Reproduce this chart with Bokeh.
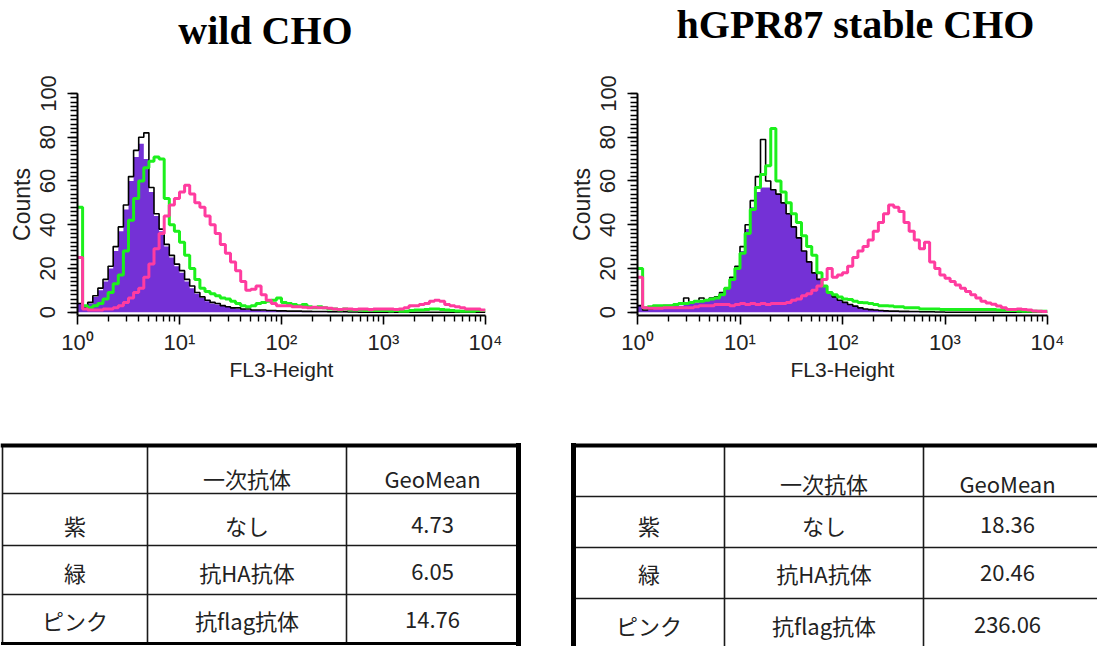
import numpy as np
from bokeh.plotting import figure
from bokeh.models import Range1d, FixedTicker
from bokeh.layouts import column, row
from bokeh.embed import file_html
from bokeh.resources import INLINE
from bokeh.core.properties import value

# ---------------------------------------------------------------------------
# Flow-cytometry histograms: 80 channels of 0.05 decade each, 10^0 .. 10^4
# ---------------------------------------------------------------------------
BIN_LOG_WIDTH = 0.05
N_BINS = 80
bin_edges = 10 ** (np.arange(N_BINS + 1) * BIN_LOG_WIDTH)

# wild CHO
wild_none_fill = [4, 2, 4, 7, 10, 14, 20, 28, 37, 47,
                  60, 71, 77, 70, 55, 44, 37, 30, 25, 21,
                  18, 14, 11, 8.5, 6.5, 5, 4, 3.5, 3, 2.5,
                  2, 1.5, 1.5, 1, 1, 1, 0.8, 0.8, 0.6, 0.6,
                  0.5, 0.5, 0.5, 0.4, 0.4, 0.3, 0.3, 0.3, 0.2, 0.2,
                  0.2, 0.2, 0.1, 0.1, 0.1, 0, 0, 0, 0, 0,
                  0, 0, 0, 0, 0, 0, 0, 0, 0, 0,
                  0, 0, 0, 0, 0, 0, 0, 0, 0, 0]
wild_none_edge = [4, 2, 4.5, 7.5, 11, 15, 21, 30, 39, 49,
                  62, 74, 80, 82, 57, 45, 38, 31, 26, 22,
                  19, 15, 12, 9, 7, 5.5, 4.5, 4, 3, 2.5,
                  2, 2, 1.5, 1.5, 1, 1, 1, 0.8, 0.8, 0.6,
                  0.6, 0.5, 0.5, 0.5, 0.4, 0.4, 0.3, 0.3, 0.3, 0.2,
                  0.2, 0.2, 0.2, 0.1, 0.1, 0, 0, 0, 0, 0,
                  0, 0, 0, 0, 0, 0, 0, 0, 0, 0,
                  0, 0, 0, 0, 0, 0, 0, 0, 0, 0]
wild_ha = [48, 3, 2, 3, 4, 6, 9, 13, 17, 28,
           42, 52, 60, 66, 69, 71, 70, 52, 40, 37,
           32, 26, 20, 15, 11, 9.5, 8.5, 7.5, 6.5, 6,
           5, 4, 3, 2.5, 3, 4, 4.5, 5, 5.5, 6.5,
           4.5, 4, 3.5, 3, 3.5, 2.5, 2, 2.5, 2, 1.5,
           1.5, 1, 1.5, 1, 1, 1, 0.8, 1, 0.8, 0.8,
           0.8, 0.6, 0.8, 0.5, 0.5, 0.8, 1, 1, 1.2, 1.5,
           1.5, 1.2, 1, 0.8, 0.6, 0.5, 0.5, 0.5, 0.8, 0.8]
wild_flag = [25, 1.5, 1, 1, 1, 1.5, 1.5, 2, 3, 4.5,
             6.5, 9, 11, 16, 22, 29, 36, 44, 49, 52,
             55, 58, 54, 50, 48, 44, 40, 36, 31, 27,
             23, 19, 14, 10, 10.5, 12, 8, 5.5, 4, 3,
             3, 3, 2.5, 2.5, 2.3, 2, 2.3, 2, 2, 1.8,
             1.5, 1.3, 1.5, 1.5, 1.2, 1.5, 1.5, 1.3, 1.5, 1.5,
             1.5, 1.5, 1.3, 1.5, 2, 3, 3, 3.5, 4, 5,
             5.5, 5, 3.5, 3, 2.5, 2, 1.5, 1.5, 1.5, 1]

# hGPR87 stable CHO
stable_none_fill = [3, 1, 1.5, 2, 2, 2, 2.5, 3, 3, 3.5,
                    4, 4.5, 5, 5.5, 6, 7, 9, 11, 15, 20,
                    28, 38, 48, 55, 57, 57, 56, 54, 50, 45,
                    39, 34, 28, 23, 18, 15, 12, 9, 7, 5.5,
                    4.5, 3.5, 2.8, 2, 1.5, 1.2, 1, 0.8, 0.6, 0.5,
                    0.5, 0.4, 0.4, 0.3, 0.3, 0.2, 0.2, 0.2, 0.1, 0.1,
                    0.1, 0.1, 0, 0, 0, 0, 0, 0, 0, 0,
                    0, 0, 0, 0, 0, 0, 0, 0, 0, 0]
stable_none_edge = [3, 1, 1.5, 2, 2.5, 3, 3, 3.5, 4, 6.5,
                    4.5, 5, 6.5, 5.5, 6.5, 7, 9, 11, 16, 21,
                    30, 40, 51, 62, 79, 60, 56, 54, 50, 45,
                    39, 34, 28, 23, 18, 15, 12, 9, 7, 5.5,
                    4.5, 3.5, 2.8, 2, 1.5, 1.2, 1, 0.8, 0.6, 0.5,
                    0.5, 0.4, 0.4, 0.3, 0.3, 0.2, 0.2, 0.2, 0.1, 0.1,
                    0, 0, 0, 0, 0, 0, 0, 0, 0, 0,
                    0, 0, 0, 0, 0, 0, 0, 0, 0, 0]
stable_ha = [20, 2, 2.5, 3, 3, 3, 3, 3.5, 4, 4,
             4.5, 5, 5, 5.5, 6, 6.5, 8, 11, 15, 20,
             27, 36, 47, 57, 63, 67, 84, 60, 55, 50,
             45, 41, 35, 30, 26, 18, 12, 9, 8, 7,
             6, 5.8, 5, 4.5, 4.3, 4, 3.5, 3, 3, 2.8,
             2.5, 2.5, 2, 2, 2, 1.5, 1.5, 1.5, 1.5, 1.3,
             1.3, 1.3, 1.3, 1.3, 1.3, 1.3, 1.3, 1.3, 1.3, 1.3,
             1, 1, 0.8, 0.8, 0.6, 0.5, 0.5, 0.5, 0.4, 0.4]
stable_flag = [16, 2, 1.8, 1.8, 1.8, 2, 2, 2, 2, 2,
               2, 2.5, 3, 3, 3, 3.5, 3.5, 3.5, 3, 3.5,
               4, 3.5, 4, 3.5, 4, 3.5, 4, 4, 4, 4.5,
               5.5, 6, 7.5, 8.5, 10, 12, 15, 20, 16, 17,
               18, 21, 25, 28, 30, 33, 37, 41, 45, 49,
               48, 46, 41, 37, 33, 29, 32, 23, 20, 17,
               15.5, 14, 12.5, 11, 9.5, 8, 6.5, 5, 4.2, 3.6,
               2.8, 2, 1.3, 1.3, 1.5, 1.3, 1, 0.6, 0.4, 0.3]

x_decades = [1, 10, 100, 1000, 10000]
x_tick_labels = ["10\u2070", "10\u00b9", "10\u00b2", "10\u00b3", "10\u2074"]
y_ticks = [0, 20, 40, 60, 80, 100]

panel_titles = ["wild CHO", "hGPR87 stable CHO"]

# table contents
table_header = ["", "一次抗体", "GeoMean"]
colour_names = ["紫", "緑", "ピンク"]
antibodies = ["なし", "抗HA抗体", "抗flag抗体"]
wild_geomean = ["4.73", "6.05", "14.76"]
stable_geomean = ["18.36", "20.46", "236.06"]

PURPLE = "#7431d6"
GREEN = "#1cf01c"
PINK = "#ff3c9f"
AXIS_FONT = "Liberation Sans"
TABLE_FONT = "Noto Sans CJK JP"


def blank_canvas(width, height):
    """A figure whose data space equals its pixel space (y downwards)."""
    p = figure(width=width, height=height,
               x_range=Range1d(0, width), y_range=Range1d(height, 0),
               output_backend="svg", toolbar_location=None,
               min_border=0, min_border_left=0, min_border_right=0,
               min_border_top=0, min_border_bottom=0)
    p.axis.visible = False
    p.grid.visible = False
    p.outline_line_color = None
    p.background_fill_color = "white"
    p.border_fill_color = "white"
    return p


def heading(text, width, height, cx, cy):
    p = blank_canvas(width, height)
    p.text(x=[cx], y=[cy], text=[text], text_align="center",
           text_baseline="middle", text_font=value("Liberation Serif"),
           text_font_style="bold", text_font_size="40px", text_color="black")
    return p


def step_y(counts):
    return list(counts) + [counts[-1]]


def histogram_panel(fill, edge, ha, flag, width, height,
                    border_left, border_right, border_top, border_bottom):
    p = figure(width=width, height=height, x_axis_type="log",
               x_range=Range1d(1, 1e4), y_range=Range1d(-1.5, 100),
               output_backend="svg", toolbar_location=None,
               min_border_left=border_left, min_border_right=border_right,
               min_border_top=border_top, min_border_bottom=border_bottom)
    p.outline_line_color = None
    p.grid.visible = False
    p.background_fill_color = "white"
    p.border_fill_color = "white"

    p.varea_step(x=bin_edges, y1=np.zeros(N_BINS + 1), y2=step_y(fill),
                 step_mode="after", fill_color=PURPLE)
    p.step(bin_edges, step_y(edge), mode="after", line_color="black", line_width=1.6)
    p.step(bin_edges, step_y(ha), mode="after", line_color=GREEN, line_width=3)
    p.step(bin_edges, step_y(flag), mode="after", line_color=PINK, line_width=3)

    minor_x = [m * d for d in x_decades[:-1] for m in range(2, 10)]
    p.xaxis.ticker = FixedTicker(ticks=x_decades, minor_ticks=minor_x)
    p.xaxis.major_label_overrides = dict(zip(x_decades, x_tick_labels))
    p.xaxis.axis_label = "FL3-Height"
    p.yaxis.ticker = FixedTicker(ticks=y_ticks, minor_ticks=list(range(0, 101, 2)))
    p.yaxis.major_label_orientation = "vertical"
    p.yaxis.axis_label = "Counts"

    for ax in (p.xaxis[0], p.yaxis[0]):
        ax.axis_line_width = 2
        ax.axis_line_color = "black"
        ax.major_tick_line_width = 1.6
        ax.minor_tick_line_width = 1.4
        ax.major_tick_line_color = "black"
        ax.minor_tick_line_color = "black"
        ax.major_tick_in = 0
        ax.minor_tick_in = 0
        ax.major_label_text_font = AXIS_FONT
        ax.major_label_text_color = "#222222"
        ax.axis_label_text_font = AXIS_FONT
        ax.axis_label_text_font_style = "normal"
        ax.axis_label_text_color = "#222222"
    p.xaxis.major_label_text_font_size = "22px"
    p.xaxis.axis_label_text_font_size = "21px"
    p.yaxis.major_label_text_font_size = "22px"
    p.yaxis.axis_label_text_font_size = "23px"
    p.xaxis.major_tick_out = 9
    p.xaxis.minor_tick_out = 6
    p.yaxis.major_tick_out = 10
    p.yaxis.minor_tick_out = 7
    p.xaxis.major_label_standoff = 5
    p.xaxis.axis_label_standoff = 0
    p.yaxis.major_label_standoff = 12
    p.yaxis.axis_label_standoff = 3
    return p


def table_panel(width, height, col_edges, row_edges, text_x, text_y,
                rows, thick, thin_left):
    p = blank_canvas(width, height)
    top, bottom = row_edges[0], row_edges[-1]
    left, right = col_edges[0], col_edges[-1]
    # inner grid lines
    xs0 = list(col_edges[1:-1]) + [left] * (len(row_edges) - 2)
    xs1 = list(col_edges[1:-1]) + [right] * (len(row_edges) - 2)
    ys0 = [top] * (len(col_edges) - 2) + list(row_edges[1:-1])
    ys1 = [bottom] * (len(col_edges) - 2) + list(row_edges[1:-1])
    p.segment(xs0, ys0, xs1, ys1, line_color="#1a1a1a", line_width=1.6)
    if thin_left:
        p.segment([left], [top], [left], [bottom], line_color="#1a1a1a", line_width=1.6)
    # heavy frame edges
    for (x0, y0, x1, y1, w) in thick:
        p.segment([x0], [y0], [x1], [y1], line_color="black", line_width=w,
                  line_cap="square")

    xs, ys, texts = [], [], []
    for r, cells in enumerate(rows):
        for c, t in enumerate(cells):
            if t:
                xs.append(text_x[c])
                ys.append(text_y[r])
                texts.append(t)
    p.text(x=xs, y=ys, text=texts, text_align="center", text_baseline="middle",
           text_font=value(TABLE_FONT), text_font_size="22px", text_color="#222222")
    return p


h_wild = heading(panel_titles[0], 548, 60, 265, 30)
h_stable = heading(panel_titles[1], 549, 60, 307, 24)

p_wild = histogram_panel(wild_none_fill, wild_none_edge, wild_ha, wild_flag,
                         548, 340, 77, 63, 30, 85)
p_stable = histogram_panel(stable_none_fill, stable_none_edge, stable_ha, stable_flag,
                           549, 340, 89, 50, 33, 79)

wild_rows = [table_header] + [[n, a, g] for n, a, g in zip(colour_names, antibodies, wild_geomean)]
stable_rows = [table_header] + [[n, a, g] for n, a, g in zip(colour_names, antibodies, stable_geomean)]

t_wild = table_panel(548, 246, [2, 147, 346, 518], [45, 93, 145, 194, 243],
                     [74.5, 246.5, 432], [77, 124, 171, 219], wild_rows,
                     thick=[(2, 45, 518, 45, 4), (518, 45, 518, 243, 5), (2, 243, 518, 243, 3)],
                     thin_left=True)
t_stable = table_panel(549, 246, [25, 176, 375, 560], [45, 96, 147, 198, 249],
                       [100.5, 275.5, 459], [82, 124, 172, 224], stable_rows,
                       thick=[(25, 45, 560, 45, 4), (25, 45, 25, 250, 5)],
                       thin_left=False)

layout = column(row(h_wild, h_stable), row(p_wild, p_stable), row(t_wild, t_stable))
open("out.html", "w").write(file_html(layout, INLINE))
